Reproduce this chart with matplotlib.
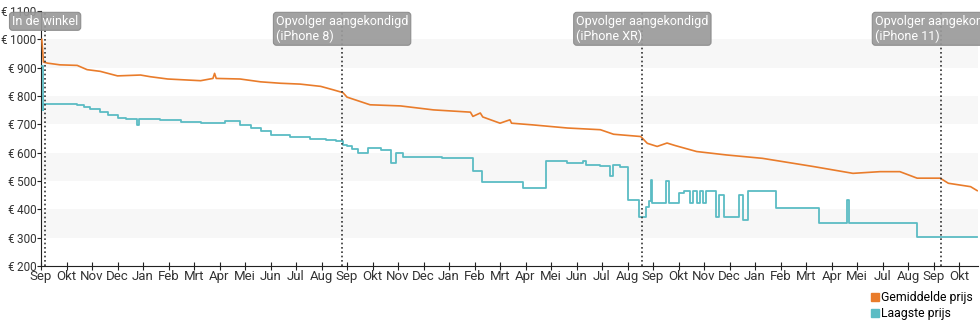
import matplotlib
matplotlib.use("Agg")
import matplotlib.pyplot as plt
import matplotlib.transforms as mtransforms
from matplotlib.lines import Line2D
from matplotlib.ticker import FuncFormatter
import pandas as pd

plt.rcParams['font.family'] = ['Roboto', 'DejaVu Sans']

ORANGE = '#e97c2b'
TEAL = '#5bbcc4'

avg_dates = ['2016-09-12', '2016-09-14', '2016-09-19', '2016-10-04', '2016-10-25', '2016-11-06',
             '2016-11-22', '2016-12-13', '2017-01-10', '2017-01-22', '2017-02-12', '2017-03-24',
             '2017-04-08', '2017-04-10', '2017-04-12', '2017-05-11', '2017-06-05', '2017-06-29',
             '2017-07-23', '2017-08-17', '2017-09-01', '2017-09-13', '2017-09-18', '2017-10-16',
             '2017-11-22', '2018-01-01', '2018-02-15', '2018-02-18', '2018-02-27', '2018-03-02',
             '2018-03-23', '2018-04-04', '2018-04-06', '2018-05-02', '2018-06-13', '2018-07-23',
             '2018-08-08', '2018-09-10', '2018-09-18', '2018-09-30', '2018-10-12', '2018-10-22',
             '2018-11-17', '2018-12-23', '2019-02-05', '2019-04-08', '2019-05-26', '2019-06-28',
             '2019-07-22', '2019-08-12', '2019-09-09', '2019-09-19', '2019-10-16', '2019-10-24']
avg_values = [1000, 920, 916, 910, 908, 893,
              887, 871, 874, 868, 860, 854,
              862, 880, 862, 860, 850, 845,
              842, 834, 822, 812, 796, 769,
              765, 751, 743, 728, 740, 726,
              704, 716, 704, 698, 687, 681,
              665, 657, 633, 622, 634, 625,
              604, 592, 580, 551, 527, 533,
              533, 510, 510, 492, 480, 466]

low_dates = ['2016-09-12', '2016-09-13', '2016-09-14', '2016-10-25', '2016-11-02', '2016-11-10',
             '2016-11-22', '2016-12-02', '2016-12-13', '2016-12-23', '2017-01-06', '2017-01-08',
             '2017-02-03', '2017-02-28', '2017-03-24', '2017-04-23', '2017-05-11', '2017-05-24',
             '2017-06-05', '2017-06-17', '2017-07-11', '2017-08-04', '2017-08-23', '2017-09-05',
             '2017-09-13', '2017-09-18', '2017-09-24', '2017-10-01', '2017-10-13', '2017-10-29',
             '2017-11-10', '2017-11-16', '2017-11-25', '2018-01-12', '2018-02-18', '2018-03-01',
             '2018-04-20', '2018-05-18', '2018-06-13', '2018-07-02', '2018-07-05', '2018-07-23',
             '2018-08-04', '2018-08-07', '2018-08-16', '2018-08-25', '2018-09-08', '2018-09-16',
             '2018-09-20', '2018-09-22', '2018-09-24', '2018-10-11', '2018-10-14', '2018-10-26',
             '2018-11-02', '2018-11-09', '2018-11-13', '2018-11-18', '2018-11-21', '2018-11-25',
             '2018-11-28', '2018-12-10', '2018-12-14', '2018-12-20', '2019-01-07', '2019-01-12',
             '2019-01-18', '2019-02-21', '2019-04-15', '2019-05-19', '2019-05-21', '2019-08-12',
             '2019-10-24']
low_values = [905, 750, 772, 768, 762, 755,
              744, 733, 723, 718, 697, 718,
              714, 708, 703, 712, 697, 688,
              675, 662, 657, 650, 645, 640,
              628, 622, 612, 600, 616, 610,
              563, 600, 584, 580, 537, 498,
              474, 569, 563, 570, 558, 553,
              516, 557, 548, 433, 372, 410,
              430, 505, 421, 500, 421, 457,
              463, 421, 463, 421, 463, 421,
              463, 374, 451, 374, 451, 363,
              463, 404, 351, 433, 351, 301,
              301]

event_dates = ['2016-09-16', '2017-09-12', '2018-09-12', '2019-09-10']
event_labels = ['In de winkel',
                'Opvolger aangekondigd\n(iPhone 8)',
                'Opvolger aangekondigd\n(iPhone XR)',
                'Opvolger aangekondigd\n(iPhone 11)']

month_names = ['Jan', 'Feb', 'Mrt', 'Apr', 'Mei', 'Jun', 'Jul', 'Aug', 'Sep', 'Okt', 'Nov', 'Dec']
tick_dates = pd.date_range('2016-09-11', periods=37, freq='31D')

fig = plt.figure(figsize=(9.8, 3.25), dpi=100)
ax = fig.add_axes([41 / 980, 59 / 325, 937 / 980, 255 / 325])

# achtergrondbanden
for lo in (300, 500, 700, 900):
    ax.axhspan(lo, lo + 100, color='#f7f7f7', zorder=0, lw=0)

ax.plot(pd.to_datetime(avg_dates), avg_values, color=ORANGE, lw=1.2, zorder=3)
ax.plot(pd.to_datetime(low_dates), low_values, color=TEAL, lw=1.3, drawstyle='steps-post', zorder=3)

trans = mtransforms.blended_transform_factory(ax.transData, ax.transAxes)
for d, lab in zip(pd.to_datetime(event_dates), event_labels):
    ax.axvline(d, color='#333333', lw=1.2, linestyle=(0, (1, 1.6)), zorder=5)
    ax.text(d, 0.985, lab, transform=trans, ha='center', va='top', color='white',
            fontsize=9, linespacing=1.15, multialignment='left', zorder=6, clip_on=False,
            bbox=dict(boxstyle='round,pad=0.2,rounding_size=0.25', fc='#9a9a9a', ec='#8a8a8a',
                      lw=0.8, alpha=0.92))

ax.set_xlim(pd.Timestamp('2016-09-11'), pd.Timestamp('2019-10-25'))
ax.set_ylim(200, 1100)
ax.set_yticks(range(200, 1101, 100))
ax.yaxis.set_major_formatter(FuncFormatter(lambda v, p: f"€\u2009{v:.0f}"))
ax.set_xticks(tick_dates)
ax.set_xticklabels([month_names[d.month - 1] for d in tick_dates])

for s in ('top', 'right'):
    ax.spines[s].set_visible(False)
ax.spines['left'].set_color('#222222')
ax.spines['bottom'].set_color('#222222')
ax.tick_params(axis='y', direction='out', length=3, pad=0.5, labelsize=8.5, colors='#222222',
               labelcolor='#333333')
ax.tick_params(axis='x', direction='inout', length=6, pad=0, labelsize=9.5, colors='#222222',
               labelcolor='#333333')

handles = [Line2D([], [], marker='s', ls='none', color=ORANGE, markersize=5.5),
           Line2D([], [], marker='s', ls='none', color=TEAL, markersize=5.5)]
fig.legend(handles, ['Gemiddelde prijs', 'Laagste prijs'], loc='upper left',
           bbox_to_anchor=(871 / 980, 34 / 325), frameon=False, fontsize=8.8,
           handlelength=0.6, handletextpad=0.25, labelspacing=0.25, borderpad=0, borderaxespad=0)

fig.savefig('out.png', dpi=100)
